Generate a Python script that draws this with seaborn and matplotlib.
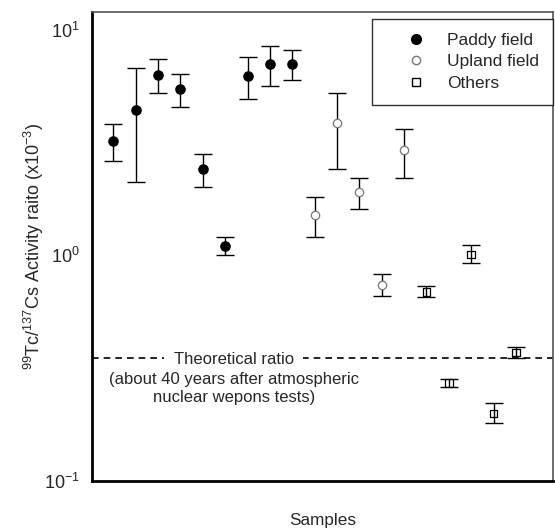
import matplotlib
matplotlib.use("Agg")
import matplotlib.pyplot as plt
from matplotlib.lines import Line2D
import numpy as np
import pandas as pd
import seaborn as sns

# --- Data --------------------------------------------------------------------
groups = ["Paddy field"] * 9 + ["Upland field"] * 5 + ["Others"] * 5
ratio = [3.21, 4.43, 6.33, 5.45, 2.42, 1.10, 6.22, 7.08, 7.08,
         1.51, 3.85, 1.90, 0.74, 2.93,
         0.69, 0.272, 1.01, 0.199, 0.371]
err_hi = [3.84, 6.75, 7.45, 6.35, 2.81, 1.21, 7.57, 8.45, 8.13,
          1.81, 5.23, 2.21, 0.824, 3.63,
          0.731, 0.282, 1.11, 0.221, 0.391]
err_lo = [2.61, 2.11, 5.23, 4.53, 2.00, 1.00, 4.93, 5.63, 5.97,
          1.21, 2.42, 1.61, 0.663, 2.21,
          0.653, 0.262, 0.921, 0.180, 0.352]
theoretical = 0.35

df = pd.DataFrame({
    "sample": np.arange(1, len(ratio) + 1),
    "group": groups,
    "ratio": ratio,
    "hi": err_hi,
    "lo": err_lo,
})

# --- Style -------------------------------------------------------------------
sns.set_style("white")
plt.rcParams["font.family"] = ["Liberation Sans", "DejaVu Sans"]
plt.rcParams["mathtext.default"] = "regular"

fig = plt.figure(figsize=(5.55, 5.3), dpi=100)
ax = fig.add_axes([0.166, 0.0925, 0.830, 0.885])

# Error bars first so the markers sit on top
ax.errorbar(df["sample"], df["ratio"],
            yerr=[df["ratio"] - df["lo"], df["hi"] - df["ratio"]],
            fmt="none", ecolor="black", elinewidth=1.0,
            capsize=6.2, capthick=1.0, zorder=2)

styles = {
    "Paddy field": dict(marker="o", s=45, color="black", edgecolor="black"),
    "Upland field": dict(marker="o", s=36, facecolor="white", edgecolor="#777777"),
    "Others": dict(marker="s", s=30, facecolor="none", edgecolor="black"),
}
for name, kw in styles.items():
    sub = df[df["group"] == name]
    sns.scatterplot(data=sub, x="sample", y="ratio", ax=ax, linewidth=0.9,
                    zorder=3, legend=False, **kw)

# Theoretical ratio line with annotation
ax.axhline(theoretical, color="black", linestyle=(0, (4, 3)), linewidth=1.2, zorder=1)
ax.text(6.38, 0.347, "Theoretical ratio", ha="center", va="center", fontsize=12,
        bbox=dict(facecolor="white", edgecolor="none", pad=7), zorder=2)
ax.text(6.38, 0.257, "(about 40 years after atmospheric\nnuclear wepons tests)",
        ha="center", va="center", fontsize=12, linespacing=1.2, zorder=2)

ax.set_yscale("log")
ax.set_ylim(0.1, 12)
ax.set_xlim(0.05, 20.65)
ax.set_xticks([])
ax.set_yticks([0.1, 1, 10])
ax.set_yticklabels(["$10^{-1}$", "$10^{0}$", "$10^{1}$"])
ax.minorticks_off()
ax.tick_params(axis="y", direction="in", length=8, width=1.0, labelsize=13, pad=9)

ax.set_xlabel("Samples", fontsize=12.3, labelpad=23)
ax.set_ylabel("$^{99}$Tc/$^{137}$Cs Activity raito (x10$^{-3}$)", fontsize=13)
ax.yaxis.set_label_coords(-0.10, 0.5)

for side in ["left", "bottom"]:
    ax.spines[side].set_color("black")
    ax.spines[side].set_linewidth(2.0)
for side in ["top", "right"]:
    ax.spines[side].set_color("#555555")
    ax.spines[side].set_linewidth(1.2)

handles = [
    Line2D([], [], marker="o", linestyle="none", markersize=7,
           markerfacecolor="black", markeredgecolor="black"),
    Line2D([], [], marker="o", linestyle="none", markersize=6,
           markerfacecolor="white", markeredgecolor="#777777"),
    Line2D([], [], marker="s", linestyle="none", markersize=5.5,
           markerfacecolor="white", markeredgecolor="black"),
]
leg = ax.legend(handles, ["Paddy field", "Upland field", "Others"],
                loc="upper right", bbox_to_anchor=(1.0, 0.985), fontsize=12.5,
                frameon=True, fancybox=False, borderpad=0.8, labelspacing=0.36,
                handlelength=3.4, handletextpad=0.1, borderaxespad=0.0)
leg.get_frame().set_edgecolor("black")
leg.get_frame().set_linewidth(1.0)

fig.savefig("out.png", dpi=100)
plt.close(fig)
